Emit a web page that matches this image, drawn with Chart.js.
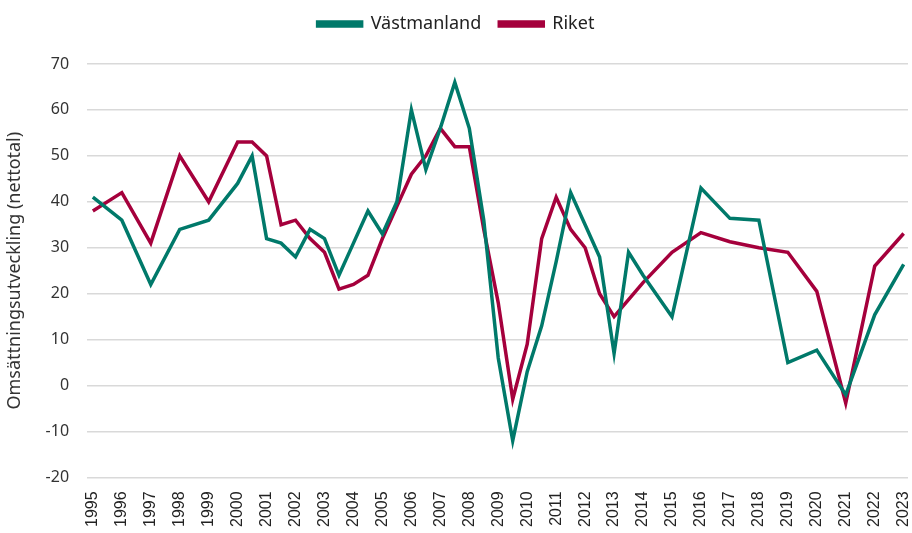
<!DOCTYPE html>
<html>
<head>
<meta charset="utf-8">
<script src="https://cdn.jsdelivr.net/npm/chart.js@4"></script>
<style>
	html, body { margin: 0; padding: 0; background: #fff; }
	#wrap { width: 912px; height: 533px; }
</style>
</head>
<body>
<div id="wrap"><canvas id="line-chartcanvas"></canvas></div>
<script>
// period (year, half years between 2000 and 2013)
var periods = [1995, 1996, 1997, 1998, 1999,
	2000, 2000.5, 2001, 2001.5, 2002, 2002.5, 2003, 2003.5, 2004, 2004.5,
	2005, 2005.5, 2006, 2006.5, 2007, 2007.5, 2008, 2008.5, 2009, 2009.5,
	2010, 2010.5, 2011, 2011.5, 2012, 2012.5, 2013, 2013.5,
	2014, 2015, 2016, 2017, 2018, 2019, 2020, 2021, 2022, 2023];

var vastmanland = [41, 36, 22, 34, 36,
	44, 50, 32, 31, 28, 34, 32, 24, 31, 38,
	33, 40, 60, 47, 56, 66, 56, 36, 6, -12,
	3, 13, 27, 42, 35, 28, 7, 29,
	24, 15, 43, 36.4, 36, 5, 7.7, -2, 15.4, 26.4];

var riket = [38, 42, 31, 50, 40,
	53, 53, 50, 35, 36, 32, 29, 21, 22, 24,
	32, 39, 46, 50, 56, 52, 52, 34, 18, -3,
	9, 32, 41, 34, 30, 20, 15, 18.7,
	22.4, 29, 33.3, 31.3, 30, 29, 20.5, -3.8, 26, 33.1];

var yearTicks = [];
for (var yr = 1995; yr <= 2023; yr++) yearTicks.push(yr);

var yTicks = [-20, -10, 0, 10, 20, 30, 40, 50, 60, 70];

function toPoints(values) {
	return periods.map(function(p, i) { return {x: p, y: values[i]}; });
}

var ctx = document.getElementById("line-chartcanvas");

var data = {
	datasets: [
		{
			label: "Västmanland",
			data: toPoints(vastmanland),
			backgroundColor: "#00796A",
			borderColor: "#00796A",
			borderWidth: 3.5,
			fill: false,
			tension: 0,
			pointRadius: 0
		},
		{
			label: "Riket",
			data: toPoints(riket),
			backgroundColor: "#A5003C",
			borderColor: "#A5003C",
			borderWidth: 3.5,
			fill: false,
			tension: 0,
			pointRadius: 0
		}
	]
};

// extra room under the legend
var legendGap = {
	id: "legendGap",
	beforeInit: function(chart) {
		var fit = chart.legend.fit;
		chart.legend.fit = function() {
			fit.bind(chart.legend)();
			this.height += 21;
		};
	}
};

var options = {
	responsive: true,
	maintainAspectRatio: false,
	animation: false,
	layout: { padding: { left: 4, right: 4, top: -3, bottom: 0 } },
	plugins: {
		legend: {
			display: true,
			position: "top",
			labels: {
				boxWidth: 44,
				boxHeight: 4,
				padding: 18,
				color: "#222",
				font: { family: "Noto Sans", size: 18 }
			}
		},
		tooltip: { enabled: false }
	},
	scales: {
		x: {
			type: "linear",
			min: 1994.8,
			max: 2023.15,
			grid: { display: false },
			border: { display: false },
			afterBuildTicks: function(scale) {
				scale.ticks = yearTicks.map(function(v) { return {value: v}; });
			},
			afterFit: function(scale) {
				scale.paddingRight = 3;
			},
			ticks: {
				autoSkip: false,
				minRotation: 90,
				maxRotation: 90,
				padding: 6,
				color: "#222",
				font: { family: "Liberation Sans", size: 16 },
				callback: function(v) { return String(v); }
			}
		},
		y: {
			min: -20,
			max: 70,
			afterBuildTicks: function(scale) {
				scale.ticks = yTicks.map(function(v) { return {value: v}; });
			},
			grid: { color: "#d9d9d9", lineWidth: 1.5, drawTicks: false },
			border: { display: false },
			ticks: {
				padding: 18,
				color: "#333",
				font: { family: "Noto Sans", size: 16 }
			},
			title: {
				display: true,
				text: "Omsättningsutveckling (nettotal)",
				color: "#333",
				padding: { top: 0, bottom: 2 },
				font: { family: "Noto Sans", size: 18 }
			}
		}
	}
};

var chart = new Chart(ctx, {
	type: "line",
	data: data,
	options: options,
	plugins: [legendGap]
});
</script>
</body>
</html>
